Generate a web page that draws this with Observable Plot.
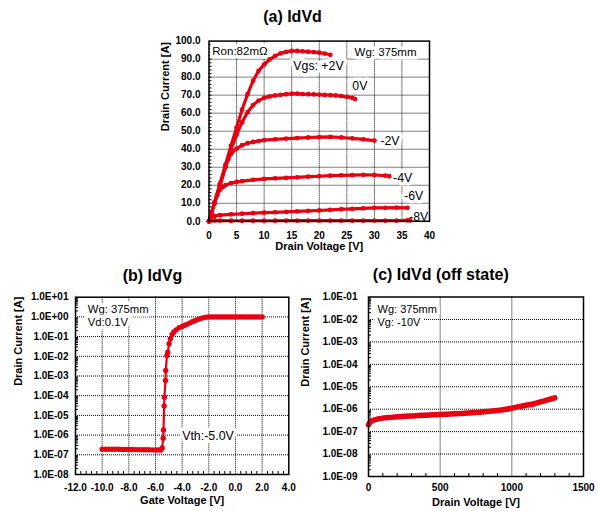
<!DOCTYPE html>
<html><head><meta charset="utf-8">
<script src="https://cdn.jsdelivr.net/npm/d3@7"></script>
<script src="https://cdn.jsdelivr.net/npm/@observablehq/plot@0.6"></script>
<style>
body{margin:0;background:#fff;}
#chart{position:relative;width:598px;height:511px;font-family:"Liberation Sans",Arial,sans-serif;}
.title{position:absolute;width:300px;text-align:center;font-weight:bold;font-size:16px;line-height:16px;color:#000;}
.panel{position:absolute;}
.panel svg{overflow:visible;}
</style></head><body><div id="chart"></div>
<script>
// ---------- (a) IdVd ----------
const seriesA = ["+2V", "0V", "-2V", "-4V", "-6V", "-8V"];
const vdA_p2 = [0,1,2,3,4,5,6,7,8,9,10,11,12,13,14,15,16,17,18,19,20,21,22];
const idA_p2 = [0,10.5,21,31.5,42,52,62,70.5,78,83.5,87,89.8,91.8,93.2,94,94.5,94.5,94.3,94.1,93.9,93.6,93.1,92.4];
const vdA_0 = [0,1,2,3,4,5,6,7,8,9,10,11,12,13,14,15,16,17,18,19,20,21,22,23,24,25,26,26.5];
const idA_0 = [0,10.3,20.5,30.5,40,48,55,60.5,64.5,67,68.5,69.3,69.8,70.2,70.5,70.8,70.8,70.6,70.5,70.4,70.3,70.1,70,69.8,69.5,69.1,68.5,67.8];
const vdA_m2 = [0,1,2,3,3.5,4,5,6,7,8,9,10,12,14,16,18,20,22,24,26,28,30];
const idA_m2 = [0,10,20,30,34.5,37.5,40.3,42.2,43.3,44,44.5,45,45.5,45.9,46.2,46.5,46.7,46.8,46.5,46,45.5,44.8];
const vdA_m4 = [0,0.5,1,1.5,2,2.5,3,4,5,6,8,10,12,14,16,18,20,22,24,26,28,30,32,32.7];
const idA_m4 = [0,5,10,14.5,17.5,19,20,21.2,21.8,22.3,23,23.5,23.8,24.1,24.4,24.8,25,25.3,25.5,25.6,25.8,25.7,25.3,25];
const vdA_m6 = [0,0.3,1,2,4,6,8,10,12,14,16,18,20,22,24,26,28,30,32,34,36];
const idA_m6 = [0,2,3,3.4,3.8,4.2,4.5,4.8,5,5.2,5.5,5.8,6,6.3,6.7,6.9,7.2,7.4,7.5,7.6,7.5];
const vdA_m8 = [0,1,2,4,6,8,10,12,14,16,18,20,22,24,26,28,30,32,34,36,36.5];
const idA_m8 = [0,0.5,0.4,0.3,0.3,0.3,0.3,0.3,0.4,0.4,0.4,0.4,0.4,0.4,0.4,0.4,0.4,0.4,0.4,0.5,0.5];
const xTicksA = [0,5,10,15,20,25,30,35,40];
const yTicksA = [0,10,20,30,40,50,60,70,80,90,100];

// ---------- (b) IdVg ----------
const vgB = [-10,-9.75,-9.5,-9.25,-9,-8.75,-8.5,-8.25,-8,-7.75,-7.5,-7.25,-7,-6.75,-6.5,-6.25,-6,-5.8,-5.6,
  -5.5,-5.42,-5.4,-5.35,-5.33,-5.25,-5.23,-5.14,-5.08,-4.98,-4.88,-4.75,-4.62,-4.45,-4.23,-4.0,-3.8,-3.6,-3.4,-3.2,-3.0,-2.8,-2.6,-2.4,-2.2,
  -2.0,-1.8,-1.6,-1.4,-1.2,-1.0,-0.8,-0.6,-0.4,-0.2,0,0.2,0.4,0.6,0.8,1.0,1.2,1.4,1.6,1.8,2.0];
const idB = [1.9e-7,1.9e-7,1.9e-7,1.9e-7,1.9e-7,1.9e-7,1.88e-7,1.88e-7,1.86e-7,1.85e-7,1.84e-7,1.83e-7,1.82e-7,1.8e-7,1.8e-7,1.78e-7,1.77e-7,1.76e-7,1.75e-7,
  2.2e-7,7e-7,1.8e-6,3e-5,8.3e-5,5.9e-4,1.9e-3,1.1e-2,1.6e-2,4.3e-2,7.7e-2,0.13,0.17,0.22,0.28,0.33,0.38,0.43,0.5,0.58,0.66,0.75,0.84,0.92,0.97,
  1.0,1.0,1.0,1.0,1.0,1.0,1.0,1.0,1.0,1.0,1.0,1.0,1.0,1.0,1.0,1.0,1.0,1.0,1.0,1.0,1.0];
const xTicksB = [-12,-10,-8,-6,-4,-2,0,2,4];
const yTicksB = [1e-8,1e-7,1e-6,1e-5,1e-4,1e-3,1e-2,1e-1,1,10];

// ---------- (c) IdVd (off state) ----------
const vdC = [0,10,25,40,60,80,110,150,200,250,300,350,400,450,500,550,600,650,700,750,800,850,900,950,1000,1050,1100,1150,1200,1250,1300];
const idC = [2.0e-7,2.6e-7,3.0e-7,3.3e-7,3.6e-7,3.8e-7,4.1e-7,4.3e-7,4.6e-7,4.8e-7,5.0e-7,5.2e-7,5.4e-7,5.6e-7,5.8e-7,6.0e-7,6.2e-7,6.5e-7,6.7e-7,7.1e-7,7.6e-7,8.1e-7,8.7e-7,9.6e-7,1.1e-6,1.3e-6,1.5e-6,1.7e-6,2.1e-6,2.6e-6,3.2e-6];
const xTicksC = [0,500,1000,1500];
const yTicksC = [1e-9,1e-8,1e-7,1e-6,1e-5,1e-4,1e-3,1e-2,1e-1];

// ---------- rendering ----------
const RED = "#e60012";
const FONT = '"Liberation Sans", Arial, sans-serif';
const chart = document.getElementById("chart");
const expFmt = v => { const e = Math.round(Math.log10(v)); return "1.0E" + (e < 0 ? "-" : "+") + String(Math.abs(e)).padStart(2, "0"); };
const logMinor = (lo, hi) => { const out = []; for (let e = lo; e < hi; e++) for (let k = 2; k <= 9; k++) out.push(k * Math.pow(10, e)); return out; };

function addTitle(text, cx, cy) {
  const d = document.createElement("div");
  d.className = "title"; d.textContent = text;
  d.style.left = (cx - 150) + "px"; d.style.top = (cy - 8) + "px";
  chart.appendChild(d);
}
function addPanel(svg, left, top) {
  const d = document.createElement("div");
  d.className = "panel"; d.style.left = left + "px"; d.style.top = top + "px";
  d.appendChild(svg); chart.appendChild(d);
}
const gridStyle = {stroke: "black", strokeOpacity: 1, strokeWidth: 1, strokeDasharray: "1,1"};
const annot = (o) => ({fill: "black", stroke: "white", strokeWidth: 7, strokeLinejoin: "round", fontWeight: "normal", textAnchor: "start", ...o});

// Panel (a)
{
  const W = 290, H = 230, mL = 58.5, mR = 11, mT = 10.6, mB = 39.2;
  const fw = W - mL - mR, fh = H - mT - mB;
  const pairs = [[vdA_p2, idA_p2], [vdA_0, idA_0], [vdA_m2, idA_m2], [vdA_m4, idA_m4], [vdA_m6, idA_m6], [vdA_m8, idA_m8]];
  const rows = pairs.flatMap(([vs, is], k) => vs.map((v, j) => ({s: seriesA[k], v, i: is[j]})));
  const labels = [
    {t: "Ron:82mΩ", x: 0.6, y: 94.4, fs: 11.5},
    {t: "Wg: 375mm", x: 26.4, y: 93.9, fs: 11.5},
    {t: "Vgs: +2V", x: 15.3, y: 86, fs: 12.3},
    {t: "0V", x: 26, y: 74.8, fs: 12.3},
    {t: "-2V", x: 31.1, y: 44.4, fs: 12.3},
    {t: "-4V", x: 33.4, y: 24.1, fs: 12.3},
    {t: "-6V", x: 35.4, y: 13.8, fs: 12.3},
    {t: "-8V", x: 36.3, y: 2.3, fs: 12.3}
  ];
  const svg = Plot.plot({
    width: W, height: H, marginLeft: mL, marginRight: mR, marginTop: mT, marginBottom: mB,
    x: {domain: [0, 40]}, y: {domain: [0, 100]},
    style: {fontFamily: FONT, fontSize: "10px", fontWeight: "bold", background: "transparent", color: "black"},
    marks: [
      Plot.gridX(xTicksA.slice(1, -1), gridStyle),
      Plot.gridY(yTicksA.slice(1, -1), gridStyle),
      Plot.tickY(d3.range(2, 100, 2), {stroke: "black", insetRight: fw - 3}),
      ...labels.map(l => Plot.text([l], annot({x: "x", y: "y", text: "t", fontSize: l.fs}))),
      Plot.line(rows, {x: "v", y: "i", z: "s", stroke: RED, strokeWidth: 3.2}),
      Plot.dot(rows, {x: "v", y: "i", r: 2.4, fill: RED}),
      Plot.frame({stroke: "black", strokeWidth: 1.5}),
      Plot.axisX(xTicksA, {tickSize: 0, tickPadding: 10.5, tickFormat: d => String(d), label: null}),
      Plot.axisY(yTicksA, {tickSize: 0, tickPadding: 8.5, tickFormat: d => d.toFixed(1), label: null}),
      Plot.text(["Drain Voltage [V]"], {frameAnchor: "bottom", dy: 29, fontSize: 11, fontWeight: "bold"}),
      Plot.text(["Drain Current [A]"], {frameAnchor: "left", dx: -43.5, rotate: -90, fontSize: 11, fontWeight: "bold"})
    ]
  });
  addTitle("(a) IdVd", 292.5, 17);
  addPanel(svg, 150, 30);
}

// Panel (b)
{
  const W = 300, H = 226, mL = 75, mR = 11.7, mT = 11.7, mB = 37;
  const fw = W - mL - mR, fh = H - mT - mB;
  const rows = vgB.map((v, j) => ({v, i: idB[j]}));
  const labels = [
    {t: "Wg: 375mm", x: -11.08, y: 2.3, fs: 11.3},
    {t: "Vd:0.1V", x: -11.08, y: 0.5, fs: 11.3},
    {t: "Vth:-5.0V", x: -4.0, y: 9.5e-7, fs: 12.4}
  ];
  const svg = Plot.plot({
    width: W, height: H, marginLeft: mL, marginRight: mR, marginTop: mT, marginBottom: mB,
    x: {domain: [-12, 4]}, y: {type: "log", domain: [1e-8, 10]},
    style: {fontFamily: FONT, fontSize: "10px", fontWeight: "bold", background: "transparent", color: "black"},
    marks: [
      Plot.gridX(xTicksB.slice(1, -1), gridStyle),
      Plot.gridY(yTicksB.slice(1, -1), gridStyle),
      Plot.tickY(logMinor(-8, 1), {stroke: "black", insetRight: fw - 3}),
      Plot.tickX(d3.range(-11.6, 4, 0.4).filter(v => Math.abs(v / 2 - Math.round(v / 2)) > 0.01), {stroke: "black", insetTop: fh - 3}),
      ...labels.map(l => Plot.text([l], annot({x: "x", y: "y", text: "t", fontSize: l.fs}))),
      Plot.line(rows, {x: "v", y: "i", stroke: RED, strokeWidth: 2.2}),
      Plot.dot(rows, {x: "v", y: "i", r: 2.7, fill: RED}),
      Plot.frame({stroke: "black", strokeWidth: 1.5}),
      Plot.axisX(xTicksB, {tickSize: 0, tickPadding: 9.5, tickFormat: d => d.toFixed(1), label: null}),
      Plot.axisY(yTicksB, {tickSize: 0, tickPadding: 7, tickFormat: expFmt, label: null}),
      Plot.text(["Gate Voltage [V]"], {frameAnchor: "bottom", dy: 29.3, fontSize: 11, fontWeight: "bold"}),
      Plot.text(["Drain Current [A]"], {frameAnchor: "left", dx: -57.5, rotate: -90, fontSize: 11, fontWeight: "bold"})
    ]
  });
  addTitle("(b) IdVg", 152.5, 276);
  addPanel(svg, 0, 285);
}

// Panel (c)
{
  const W = 298, H = 226, mL = 68, mR = 15, mT = 11.5, mB = 35;
  const fw = W - mL - mR, fh = H - mT - mB;
  const rows = vdC.map((v, j) => ({v, i: idC[j]}));
  const labels = [
    {t: "Wg: 375mm", x: 63, y: 2.8e-2, fs: 11},
    {t: "Vg: -10V", x: 63, y: 7.6e-3, fs: 11}
  ];
  const svg = Plot.plot({
    width: W, height: H, marginLeft: mL, marginRight: mR, marginTop: mT, marginBottom: mB,
    x: {domain: [0, 1500]}, y: {type: "log", domain: [1e-9, 1e-1]},
    style: {fontFamily: FONT, fontSize: "10px", fontWeight: "bold", background: "transparent", color: "black"},
    marks: [
      Plot.gridX(xTicksC.slice(1, -1), gridStyle),
      Plot.gridY(yTicksC.slice(1, -1), gridStyle),
      Plot.tickY(logMinor(-9, -1), {stroke: "black", insetRight: fw - 3}),
      Plot.tickX(d3.range(100, 1500, 100).filter(v => v % 500 !== 0), {stroke: "black", insetTop: fh - 3}),
      ...labels.map(l => Plot.text([l], annot({x: "x", y: "y", text: "t", fontSize: l.fs}))),
      Plot.line(rows, {x: "v", y: "i", stroke: RED, strokeWidth: 5.5, strokeLinecap: "round", curve: "monotone-x"}),
      Plot.frame({stroke: "black", strokeWidth: 1.5}),
      Plot.axisX(xTicksC, {tickSize: 0, tickPadding: 7.8, tickFormat: d => String(d), label: null}),
      Plot.axisY(yTicksC, {tickSize: 0, tickPadding: 11, tickFormat: expFmt, label: null}),
      Plot.text(["Drain Voltage [V]"], {frameAnchor: "bottom", dy: 29, fontSize: 11, fontWeight: "bold"}),
      Plot.text(["Drain Current [A]"], {frameAnchor: "left", dx: -63, rotate: -90, fontSize: 11, fontWeight: "bold"})
    ]
  });
  addTitle("(c) IdVd (off state)", 440.8, 275);
  addPanel(svg, 300, 285);
}
</script></body></html>
